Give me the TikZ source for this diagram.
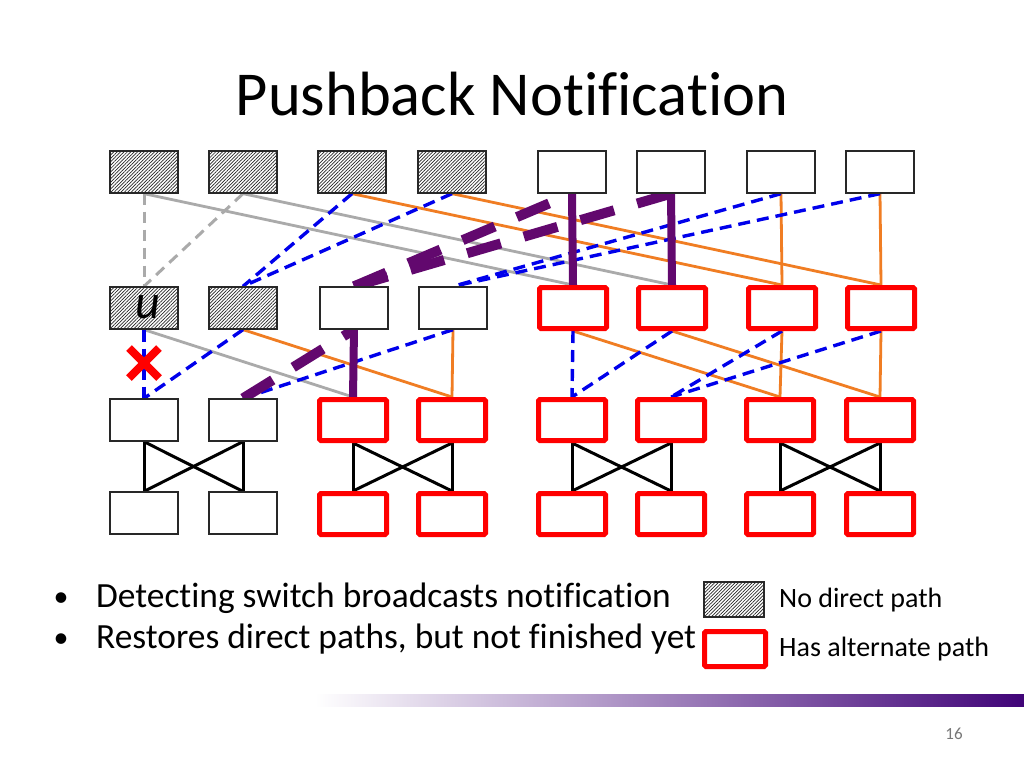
\documentclass[tikz,border=0pt]{standalone}
\usepackage{fontspec}
\setmainfont{Carlito}[Ligatures=NoCommon]
\usetikzlibrary{patterns.meta,shapes.misc}
\definecolor{lnkgray}{RGB}{170,170,170}
\definecolor{lnkblue}{RGB}{0,0,235}
\definecolor{lnkorange}{RGB}{240,125,35}
\definecolor{ppl}{RGB}{98,8,110}
\definecolor{barpurple}{RGB}{64,4,120}
\definecolor{boxgray}{RGB}{40,40,40}
\definecolor{numgray}{RGB}{120,120,120}
\pgfdeclarelayer{bg}
\pgfsetlayers{bg,main}
\tikzset{
  plainbox/.style={rectangle, draw=boxgray, line width=1.3pt, fill=white, minimum width=68pt, minimum height=42pt, inner sep=0pt},
  hatchbox/.style={plainbox, postaction={pattern={Lines[angle=45,distance=2.4pt,line width=0.7pt]}, pattern color=black!85}},
  redbox/.style={rectangle, draw=red, line width=5pt, rounded corners=1.5pt, fill=white, minimum width=67pt, minimum height=41pt, inner sep=0pt},
  graysolid/.style={draw=lnkgray, line width=2.8pt},
  graydash/.style={draw=lnkgray, line width=3pt, dash pattern=on 11pt off 7pt},
  bluedash/.style={draw=lnkblue, line width=3.4pt, dash pattern=on 12pt off 7pt},
  orangeline/.style={draw=lnkorange, line width=2.8pt},
  podline/.style={draw=black, line width=3pt},
  pplthick/.style={draw=ppl, line width=8pt},
  ppldash/.style={draw=ppl, line width=10pt, dash pattern=on 35pt off 24pt},
  bodytext/.style={font=\fontsize{35.4}{40}\selectfont, inner sep=0pt},
  legtext/.style={font=\fontsize{28}{32}\selectfont, inner sep=0pt, anchor=west},
}
\begin{document}
\begin{tikzpicture}[x=1pt,y=-1pt]
\useasboundingbox (0,0) rectangle (1024,768);

% title
\node[font=\fontsize{62.5}{66}\selectfont, anchor=base, inner sep=0pt] (title) at (512,115) {Pushback Notification};

% top row
\node[hatchbox] (t1) at (144,172) {};
\node[hatchbox] (t2) at (243,172) {};
\node[hatchbox] (t3) at (352,172) {};
\node[hatchbox] (t4) at (452,172) {};
\node[plainbox] (t5) at (572,172) {};
\node[plainbox] (t6) at (671,172) {};
\node[plainbox] (t7) at (781,172) {};
\node[plainbox] (t8) at (880,172) {};
% middle row
\node[hatchbox] (m1) at (144,308) {};
\node[font=\fontsize{48}{48}\selectfont\itshape, inner sep=0pt] (ulabel) at (148,307) {u};
\node[hatchbox] (m2) at (243,308) {};
\node[plainbox] (m3) at (354,308) {};
\node[plainbox] (m4) at (453,308) {};
\node[redbox] (m5) at (573,308) {};
\node[redbox] (m6) at (672,308) {};
\node[redbox] (m7) at (782,308) {};
\node[redbox] (m8) at (881,308) {};
% edge row
\node[plainbox] (e1) at (144,420) {};
\node[plainbox] (e2) at (243,420) {};
\node[redbox] (e3) at (353,420) {};
\node[redbox] (e4) at (452,420) {};
\node[redbox] (e5) at (572,420) {};
\node[redbox] (e6) at (671,420) {};
\node[redbox] (e7) at (780,420) {};
\node[redbox] (e8) at (880,420) {};
% host row
\node[plainbox] (h1) at (144,513) {};
\node[plainbox] (h2) at (243,513) {};
\node[redbox] (h3) at (353,514) {};
\node[redbox] (h4) at (452,514) {};
\node[redbox] (h5) at (572,514) {};
\node[redbox] (h6) at (671,514) {};
\node[redbox] (h7) at (780,514) {};
\node[redbox] (h8) at (880,514) {};

\begin{pgfonlayer}{bg}
\fill[white] (0,0) rectangle (1024,768);
% gray
\draw[graydash] (t1.south) -- (m1.north);
\draw[graydash] (t2.south) -- (m1.north);
\draw[graysolid] (t1.south) -- (m5.north);
\draw[graysolid] (t2.south) -- (m6.north);
\draw[graysolid] (m1.south) -- (e3.north);
% orange
\draw[orangeline] (t3.south) -- (m7.north);
\draw[orangeline] (t4.south) -- (m8.north);
\draw[orangeline] (t7.south) -- (m7.north);
\draw[orangeline] (t8.south) -- (m8.north);
\draw[orangeline] (m2.south) -- (e4.north);
\draw[orangeline] (m4.south) -- (e4.north);
\draw[orangeline] (m5.south) -- (e7.north);
\draw[orangeline] (m6.south) -- (e8.north);
\draw[orangeline] (m7.south) -- (e7.north);
\draw[orangeline] (m8.south) -- (e8.north);
% blue
\draw[bluedash] (t3.south) -- (m2.north);
\draw[bluedash] (t4.south) -- (m2.north);
\draw[bluedash] (t7.south) -- (m4.north);
\draw[bluedash] (t8.south) -- (m4.north);
\draw[bluedash] (m1.south) -- (e1.north);
\draw[bluedash] (m2.south) -- (e1.north);
\draw[bluedash] (m4.south) -- (e2.north);
\draw[bluedash] (m5.south) -- (e5.north);
\draw[bluedash] (m6.south) -- (e5.north);
\draw[bluedash] (m7.south) -- (e6.north);
\draw[bluedash] (m8.south) -- (e6.north);
% pods
\foreach \a/\b in {1/2,3/4,5/6,7/8}{
  \draw[podline] (e\a.south) -- (h\a.north);
  \draw[podline] (e\b.south) -- (h\b.north);
  \draw[podline] (e\a.south) -- (h\b.north);
  \draw[podline] (e\b.south) -- (h\a.north);
}
% purple notification
\draw[pplthick] (t5.south) -- (m5.north);
\draw[pplthick] (t6.south) -- (m6.north);
\draw[pplthick] (m3.south) -- (e3.north);
\draw[ppldash] (m3.north) -- (t5.south);
\draw[ppldash] (m3.north) -- (t6.south);
\draw[ppldash] (e2.north) -- (m3.south);
\end{pgfonlayer}

% failure mark
\node[cross out, draw=red, line width=8pt, minimum size=22pt, inner sep=0pt] (xmark) at (144,363) {};

% bullets
\node[font=\fontsize{30}{30}\selectfont, inner sep=0pt, anchor=base] (b1) at (61,606) {•};
\node[bodytext, anchor=base west] (l1) at (96,607) {Detecting switch broadcasts notification};
\node[font=\fontsize{30}{30}\selectfont, inner sep=0pt, anchor=base] (b2) at (61,647) {•};
\node[bodytext, anchor=base west] (l2) at (96,648) {Restores direct paths, but not finished yet};

% legend
\node[hatchbox, minimum width=60pt, minimum height=35pt] (lg1) at (734,599.5) {};
\node[redbox, minimum width=61pt, minimum height=35pt] (lg2) at (735,649) {};
\node[legtext] (lt1) at (779,600) {No direct path};
\node[legtext] (lt2) at (779,649) {Has alternate path};

% bar
\shade[left color=white, right color=barpurple] (315,694) rectangle (1024,706);
\node[font=\fontsize{17}{17}\selectfont, text=numgray, anchor=base, inner sep=0pt] (pnum) at (954,739) {16};
\end{tikzpicture}
\end{document}
